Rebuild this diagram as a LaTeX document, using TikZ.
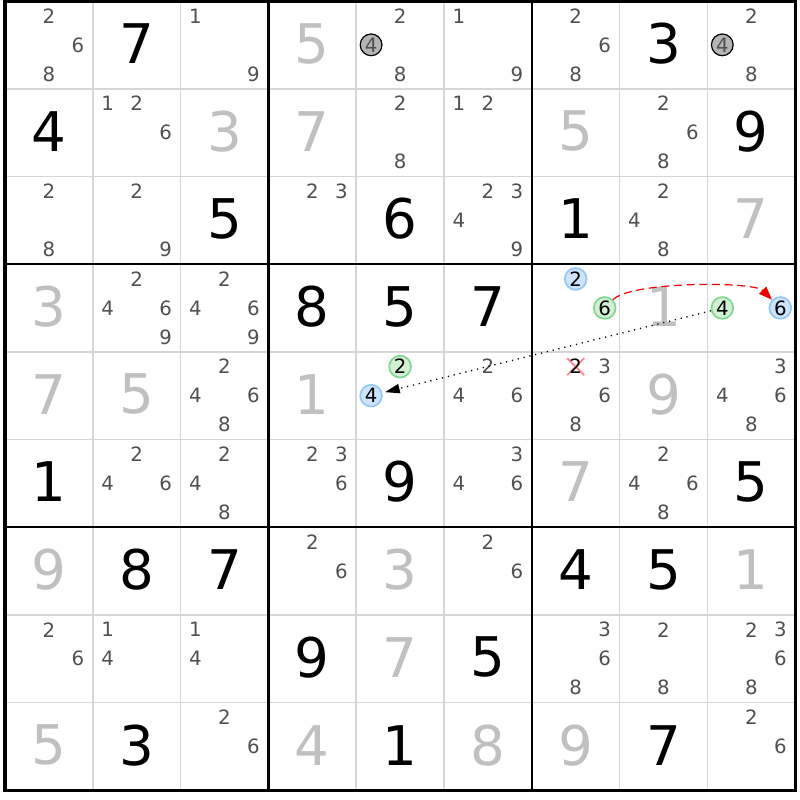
\documentclass[tikz,border=0pt]{standalone}
\usepackage{fontspec}
\setmainfont{DejaVu Sans}
\usetikzlibrary{arrows.meta}

\definecolor{candgray}{RGB}{80,80,80}
\definecolor{solvedgray}{RGB}{192,192,192}
\definecolor{gridgray}{RGB}{214,214,214}
\definecolor{bluefill}{RGB}{206,228,252}
\definecolor{blueline}{RGB}{150,200,245}
\definecolor{greenfill}{RGB}{210,241,212}
\definecolor{greenline}{RGB}{130,215,145}
\definecolor{grayfill}{RGB}{180,180,180}
\definecolor{crossred}{RGB}{255,135,145}
\definecolor{chainred}{RGB}{240,0,0}

\begin{document}
\begin{tikzpicture}[
    x=0.75pt, y=0.75pt,
    given/.style={inner sep=0pt, font=\fontsize{41}{41}\selectfont, text=black},
    solved/.style={given, text=solvedgray},
    cand/.style={inner sep=0pt, font=\fontsize{14.8}{14.8}\selectfont, text=candgray},
    circcand/.style={cand, circle, minimum size=16.3pt, line width=1.3pt, text=black},
    bluecand/.style={circcand, fill=bluefill, draw=blueline},
    greencand/.style={circcand, fill=greenfill, draw=greenline},
    graycand/.style={circcand, fill=grayfill, draw=black, line width=0.9pt, text=candgray},
    thinline/.style={draw=gridgray, line width=1.3pt},
    boxline/.style={draw=black, line width=1.9pt, line cap=rect},
    crossline/.style={draw=crossred, line width=1.4pt},
    chainarrow/.style={draw=chainred, line width=0.9pt, dash pattern=on 6pt off 3.5pt,
        -{Triangle[length=10pt, width=7.5pt]}},
    linkarrow/.style={draw=black, line width=1pt, dash pattern=on 0.9pt off 3.6pt,
        -{Triangle[length=11pt, width=7pt]}, shorten >=2pt}
]
    \useasboundingbox (0,0) rectangle (800,800);
    \fill[white] (0,0) rectangle (800,800);

    % Cell centres
    \foreach \r in {1,...,9}
        \foreach \c in {1,...,9}
            \coordinate (c\r\c) at ({5+87.8*(\c-0.5)}, {799-87.7*(\r-0.5)});

    % Grid
    \foreach \i in {1,2,4,5,7,8} {
        \draw[thinline] ({5+87.8*\i},9.7) -- ({5+87.8*\i},799);
        \draw[thinline] (5,{799-87.7*\i}) -- (795.2,{799-87.7*\i});
    }
    \foreach \i in {3,6} {
        \draw[boxline] ({5+87.8*\i},9.7) -- ({5+87.8*\i},799);
        \draw[boxline] (5,{799-87.7*\i}) -- (795.2,{799-87.7*\i});
    }
    \draw[boxline, line width=2.4pt] (5,9.7) rectangle (795.2,799);

    % Givens
    \foreach \r/\c/\d in {1/2/7, 1/8/3, 2/1/4, 2/9/9, 3/3/5, 3/5/6, 3/7/1,
                          4/4/8, 4/5/5, 4/6/7, 6/1/1, 6/5/9, 6/9/5,
                          7/2/8, 7/3/7, 7/7/4, 7/8/5, 8/4/9, 8/6/5,
                          9/2/3, 9/5/1, 9/8/7}
        \node[given] (g\r\c) at ([yshift=1pt]c\r\c) {\d};

    % Solved cells
    \foreach \r/\c/\d in {1/4/5, 2/3/3, 2/4/7, 2/7/5, 3/9/7, 4/1/3, 4/8/1,
                          5/1/7, 5/2/5, 5/4/1, 5/8/9, 6/7/7, 7/1/9, 7/5/3,
                          7/9/1, 8/5/7, 9/1/5, 9/4/4, 9/6/8, 9/7/9}
        \node[solved] (g\r\c) at ([yshift=1pt]c\r\c) {\d};

    % Candidates
    \foreach \r/\c/\ds in {1/1/{2,6,8}, 1/3/{1,9}, 1/5/{2,8}, 1/6/{1,9}, 1/7/{2,6,8},
                           1/9/{2,8}, 2/2/{1,2,6}, 2/5/{2,8}, 2/6/{1,2}, 2/8/{2,6,8},
                           3/1/{2,8}, 3/2/{2,9}, 3/4/{2,3}, 3/6/{2,3,4,9}, 3/8/{2,4,8},
                           4/2/{2,4,6,9}, 4/3/{2,4,6,9}, 5/3/{2,4,6,8}, 5/6/{2,4,6},
                           5/7/{3,6,8}, 5/9/{3,4,6,8}, 6/2/{2,4,6}, 6/3/{2,4,8},
                           6/4/{2,3,6}, 6/6/{3,4,6}, 6/8/{2,4,6,8}, 7/4/{2,6}, 7/6/{2,6},
                           8/1/{2,6}, 8/2/{1,4}, 8/3/{1,4}, 8/7/{3,6,8}, 8/8/{2,8},
                           8/9/{2,3,6,8}, 9/3/{2,6}, 9/9/{2,6}} {
        \foreach \n in \ds {
            \pgfmathsetmacro\dx{(mod(\n-1,3)-1)*29}
            \pgfmathsetmacro\dy{(1-floor((\n-1)/3))*29}
            \node[cand] (k\r\c\n) at ([shift={(\dx,\dy)}]c\r\c) {\n};
        }
    }

    % Marked candidates
    \node[graycand] (k154) at ([shift={(-29,0)}]c15) {4};
    \node[graycand] (k194) at ([shift={(-29,0)}]c19) {4};
    \node[bluecand] (k472) at ([shift={(0,29)}]c47) {2};
    \node[greencand] (k476) at ([shift={(29,0)}]c47) {6};
    \node[greencand] (k494) at ([shift={(-29,0)}]c49) {4};
    \node[bluecand] (k496) at ([shift={(29,0)}]c49) {6};
    \node[greencand] (k552) at ([shift={(0,29)}]c55) {2};
    \node[bluecand] (k554) at ([shift={(-29,0)}]c55) {4};

    % Eliminated candidate
    \coordinate (x572) at ([shift={(0,29)}]c57);
    \draw[crossline] ([shift={(-8.5,8.5)}]x572) -- ([shift={(8.5,-8.5)}]x572);
    \draw[crossline] ([shift={(-8.5,-8.5)}]x572) -- ([shift={(8.5,8.5)}]x572);
    \node[cand, text=black] (k572) at (x572) {2};

    % Links
    \draw[chainarrow] (k476) to[out=45, in=135, looseness=0.42] (k496);
    \draw[linkarrow] (k494) -- (k554);

\end{tikzpicture}
\end{document}
